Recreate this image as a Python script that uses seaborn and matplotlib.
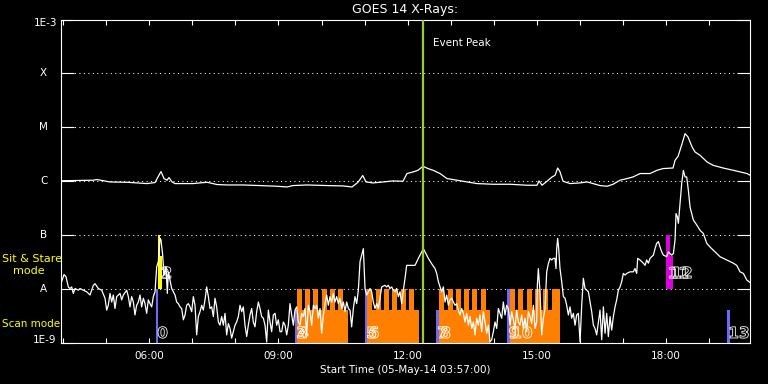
import numpy as np
import pandas as pd
import matplotlib
matplotlib.use("Agg")
import matplotlib.pyplot as plt
import matplotlib.patheffects as pe
from matplotlib.ticker import FixedLocator, NullLocator, FuncFormatter
import seaborn as sns

# ---------------- data (hours UT on 05-May-2014, log10 flux W/m^2) ----------------
x_start, x_end = 3.95, 19.95          # 03:57 .. 19:57
event_peak = 12.364

long_t = [3.950, 4.693, 4.786, 5.088, 5.483, 5.947, 6.133, 6.203, 6.272, 6.342, 6.412, 6.458,
          6.528, 6.598, 7.016, 7.341, 7.410, 7.573, 7.805, 8.177, 8.572, 8.966, 9.199, 9.338,
          9.663, 10.128, 10.499, 10.708, 10.847, 10.957, 11.033, 11.196, 11.428, 11.660, 11.892,
          11.985, 12.125, 12.241, 12.357, 12.473, 12.589, 12.752, 12.914, 13.146, 13.379, 13.611,
          13.983, 14.377, 14.772, 15.004, 15.051, 15.121, 15.236, 15.353, 15.423, 15.485, 15.539,
          15.608, 15.771, 16.003, 16.166, 16.305, 16.468, 16.630, 16.770, 16.932, 17.095, 17.234,
          17.397, 17.629, 17.792, 17.931, 18.163, 18.210, 18.280, 18.373, 18.442, 18.512, 18.605,
          18.674, 18.790, 18.953, 19.092, 19.324, 19.557, 19.882, 19.951]
long_logf = [-5.991, -5.981, -5.969, -6.013, -6.019, -6.043, -6.024, -5.920, -5.820, -5.950, -5.981, -5.931,
             -6.013, -6.043, -6.043, -6.019, -6.031, -6.061, -6.069, -6.069, -6.080, -6.093, -6.106, -6.080,
             -6.069, -6.080, -6.087, -6.106, -6.019, -5.894, -6.013, -6.031, -6.013, -5.994, -6.000,
             -5.857, -5.828, -5.796, -5.722, -5.765, -5.796, -5.857, -5.950, -5.981, -6.013, -6.043,
             -6.056, -6.056, -6.074, -6.074, -5.994, -6.074, -6.000, -5.920, -5.889, -5.754, -5.828,
             -6.000, -6.043, -6.031, -6.013, -6.043, -6.080, -6.093, -6.056, -5.981, -5.950, -5.920,
             -5.857, -5.857, -5.796, -5.765, -5.754, -5.611, -5.537, -5.302, -5.117, -5.180, -5.365,
             -5.457, -5.519, -5.643, -5.704, -5.754, -5.796, -5.857, -5.889]

short_t = [3.927, 3.966, 4.020, 4.066, 4.120, 4.159, 4.198, 4.236, 4.275, 4.353, 4.391, 4.469,
           4.546, 4.624, 4.662, 4.701, 4.740, 4.817, 4.895, 4.972, 5.011, 5.049, 5.088, 5.127,
           5.165, 5.204, 5.243, 5.320, 5.359, 5.398, 5.475, 5.514, 5.552, 5.591, 5.630, 5.668,
           5.707, 5.746, 5.785, 5.823, 5.862, 5.901, 5.939, 5.978, 6.017, 6.056, 6.094, 6.133,
           6.172, 6.211, 6.249, 6.272, 6.311, 6.342, 6.388, 6.419, 6.443, 6.481, 6.520, 6.559,
           6.598, 6.636, 6.675, 6.714, 6.752, 6.791, 6.830, 6.868, 6.907, 6.946, 6.985, 7.023,
           7.062, 7.101, 7.139, 7.178, 7.217, 7.255, 7.294, 7.333, 7.372, 7.410, 7.449, 7.488,
           7.526, 7.565, 7.604, 7.642, 7.681, 7.720, 7.759, 7.797, 7.836, 7.875, 7.913, 7.952,
           7.991, 8.029, 8.068, 8.107, 8.146, 8.184, 8.223, 8.262, 8.300, 8.339, 8.378, 8.416,
           8.455, 8.494, 8.533, 8.571,
           8.610, 8.649, 8.688, 8.726, 8.765, 8.804, 8.842, 8.881, 8.920, 8.958, 8.997, 9.036,
           9.075, 9.113, 9.152, 9.191, 9.229, 9.268, 9.307, 9.346, 9.384, 9.423, 9.462, 9.500,
           9.539, 9.578, 9.616, 9.655, 9.694, 9.733, 9.771, 9.810, 9.849, 9.887, 9.926, 9.965,
           10.003, 10.042, 10.081, 10.120, 10.158, 10.197, 10.236, 10.274, 10.313, 10.352, 10.390,
           10.429, 10.468, 10.507, 10.545, 10.584, 10.623, 10.661, 10.700, 10.739, 10.777, 10.816,
           10.855, 10.894, 10.932, 10.971, 11.010, 11.048, 11.087, 11.126, 11.164, 11.203, 11.242,
           11.281, 11.319, 11.358, 11.397, 11.474, 11.513, 11.552, 11.590, 11.629, 11.668, 11.706,
           11.745, 11.784, 11.823, 11.861, 11.900, 11.939, 11.977, 12.094, 12.171, 12.249, 12.326,
           12.365, 12.403, 12.481, 12.558, 12.636, 12.674, 12.713, 12.752, 12.790, 12.829, 12.868,
           12.907, 12.945, 12.984, 13.023, 13.061,
           13.100, 13.139, 13.177, 13.216, 13.255, 13.293, 13.332, 13.371, 13.410, 13.448, 13.487,
           13.526, 13.564, 13.603, 13.642, 13.680, 13.719, 13.758, 13.797, 13.835, 13.874, 13.913,
           13.951, 13.990, 14.029, 14.068, 14.106, 14.145, 14.184, 14.222, 14.261, 14.300, 14.338,
           14.377, 14.416, 14.455, 14.493, 14.532, 14.571, 14.609, 14.648, 14.687, 14.725, 14.764,
           14.803, 14.842, 14.880, 14.919, 14.958, 14.996, 15.012, 15.035, 15.074, 15.113, 15.151,
           15.190, 15.229, 15.267, 15.306, 15.345, 15.384, 15.422, 15.445, 15.461, 15.484, 15.507,
           15.538, 15.577, 15.616, 15.655, 15.693, 15.732, 15.771, 15.809, 15.848, 15.887, 15.925,
           15.964, 16.003, 16.042, 16.080, 16.119, 16.158, 16.196, 16.235, 16.274, 16.313, 16.351,
           16.390,
           16.467, 16.506, 16.545, 16.584, 16.622, 16.661, 16.700, 16.738, 16.777, 16.816, 16.854,
           16.893, 16.932, 16.971, 17.009, 17.048, 17.087, 17.164, 17.241, 17.280, 17.319, 17.342,
           17.396, 17.435, 17.474, 17.513, 17.551, 17.590, 17.629, 17.667, 17.706, 17.745, 17.783,
           17.822, 17.861, 17.900, 17.938, 18.016, 18.054, 18.093, 18.132, 18.171, 18.209, 18.232,
           18.263, 18.287, 18.325, 18.364, 18.403, 18.442, 18.480, 18.519, 18.558, 18.635, 18.713,
           18.790, 18.867, 18.945, 19.022, 19.100, 19.177, 19.255, 19.332, 19.410, 19.487, 19.564,
           19.642, 19.719, 19.797, 19.874, 19.952]
short_logf = [-7.99, -7.86, -7.73, -7.77, -7.96, -7.99, -7.96, -8.08, -7.99, -8.02, -7.99, -8.02,
              -8.05, -8.11, -8.02, -7.93, -7.90, -7.99, -8.02, -8.17, -8.39, -8.30, -8.08, -8.24,
              -8.11, -8.36, -8.14, -8.08, -8.20, -8.11, -8.02, -8.14, -8.33, -8.14, -8.24, -8.48,
              -8.30, -8.24, -8.11, -8.33, -8.17, -8.27, -8.45, -8.20, -8.27, -8.33, -8.14, -8.05,
              -7.59, -7.49, -7.06, -7.09, -7.37, -7.74, -7.59, -8.08, -7.68, -7.83, -7.99, -8.05,
              -8.11, -8.24, -8.27, -8.33, -8.36, -8.57, -8.48, -8.30, -8.27, -8.33, -8.42, -8.14,
              -8.30, -8.85, -8.51, -8.42, -8.30, -8.39, -8.20, -7.96, -8.14, -8.36, -8.33, -8.51,
              -8.17, -8.33, -8.61, -8.67, -8.51, -8.67, -8.45, -8.85, -8.64, -8.73, -8.91, -8.79,
              -8.67, -8.61, -8.51, -8.30, -8.42, -8.33, -8.67, -8.88, -8.67, -8.48, -8.36, -8.61,
              -8.70, -8.42, -8.24, -8.36,
              -8.51, -8.54, -8.67, -8.98, -8.39, -8.61, -8.79, -8.48, -8.45, -8.67, -8.57, -8.79,
              -8.79, -8.61, -8.67, -8.85, -8.67, -8.27, -8.48, -8.67, -8.39, -8.33, -8.61, -8.67,
              -8.45, -8.51, -8.36, -8.85, -8.30, -8.42, -8.67, -8.30, -8.36, -8.30, -8.54, -8.36,
              -8.82, -8.48, -8.27, -8.11, -8.30, -8.14, -8.24, -8.08, -8.24, -8.14, -8.27,
              -8.17, -8.36, -8.24, -8.42, -8.24, -8.36, -8.39, -8.70, -8.36, -8.14, -8.27,
              -8.02, -7.49, -7.37, -7.25, -7.99, -8.11, -8.05, -7.99, -8.05, -8.24, -8.36,
              -8.27, -8.36, -8.17, -7.96, -7.93, -7.96, -7.93, -7.99, -7.96, -8.02, -8.05,
              -7.99, -8.14, -8.05, -8.27, -8.02, -7.80, -7.56, -7.56, -7.56, -7.43, -7.31,
              -7.25, -7.31, -7.43, -7.53, -7.62, -7.71, -7.86, -7.96, -8.05, -7.96, -8.24,
              -8.11, -8.30, -8.20, -8.17, -8.24,
              -8.30, -8.27, -8.39, -8.48, -8.36, -8.45, -8.61, -8.45, -8.67, -8.51, -8.73,
              -8.61, -8.85, -8.54, -8.67, -8.48, -8.79, -8.42, -8.61, -8.82, -8.67, -8.98,
              -8.94, -8.79, -8.61, -8.73, -8.36, -8.45, -8.54, -8.24, -8.48, -8.30, -8.36,
              -8.67, -8.42, -8.57, -8.73, -8.39, -8.61, -8.67, -8.48, -8.73, -8.54, -8.79,
              -8.42, -8.51, -8.64, -8.30, -8.73, -8.61, -7.93, -7.62, -8.05, -8.85, -8.54,
              -8.36, -7.68, -7.53, -7.43, -7.46, -7.43, -7.43, -7.62, -7.25, -7.06, -7.25,
              -7.62, -7.86, -8.14, -8.17, -8.30, -8.48, -8.33, -8.54, -8.45, -8.67, -8.48,
              -8.45, -8.98, -8.30, -7.80, -7.99, -8.02, -8.05, -8.24, -8.42, -8.67, -8.73,
              -8.85,
              -8.39, -8.94, -8.33, -8.82, -8.45, -8.88, -8.51, -8.76, -8.51, -8.33, -8.20,
              -8.02, -7.96, -7.86, -7.71, -7.74, -7.71, -7.68, -7.68, -7.62, -7.71, -7.43,
              -7.46, -7.49, -7.52, -7.56, -7.46, -7.52, -7.43, -7.40, -7.37, -7.25, -7.15,
              -7.12, -7.22, -7.31, -7.37, -7.40, -7.31, -7.34, -7.37, -7.34, -7.09, -6.60,
              -6.66, -6.78, -6.41, -6.04, -5.80, -5.92, -5.92, -6.17, -6.48, -6.72, -6.81,
              -6.91, -6.97, -7.15, -7.22, -7.28, -7.34, -7.40, -7.43, -7.46, -7.49, -7.52,
              -7.56, -7.68, -7.71, -7.83, -7.88]

# IRIS observations
obs_id    = ["0", "1", "2", "3", "4", "5", "6", "7", "8", "9", "10", "11", "12", "13"]
obs_start = [6.156, 6.196, 6.256, 9.384, 9.424, 11.010, 11.063, 12.659, 12.728, 14.315, 14.377, 18.007, 18.093, 19.417]
obs_end   = [6.210, 6.256, 6.284, 9.424, 10.615, 11.063, 12.264, 12.728, 13.913, 14.377, 15.539, 18.093, 18.156, 19.480]
obs_mode  = ["scan", "sit", "sit", "scan", "scan", "scan", "scan", "scan", "scan", "scan", "scan", "sit", "sit", "scan"]
obs_kind  = ["blue", "yellow", "yellow", "blue", "orange", "blue", "orange", "blue", "orange", "blue", "orange",
             "magenta", "magenta", "blue"]
obs_full  = [True, True, False, False, False, True, False, False, False, True, False, True, False, False]

# individual raster repeats inside the long scan observations
raster_start = [9.424, 9.617, 9.809, 10.004, 10.197, 10.390,
                11.063, 11.258, 11.451, 11.643, 11.839, 12.032,
                12.728, 12.930, 13.123, 13.316, 13.502, 13.697,
                14.377, 14.570, 14.765, 14.958, 15.150, 15.346]
raster_end   = [9.540, 9.733, 9.925, 10.120, 10.313, 10.506,
                11.179, 11.374, 11.567, 11.759, 11.955, 12.148,
                12.844, 13.046, 13.239, 13.432, 13.618, 13.813,
                14.493, 14.686, 14.881, 15.074, 15.266, 15.539]

y_levels = [1e-9, 1e-8, 1e-7, 1e-6, 1e-5, 1e-4, 1e-3]
y_names  = ["1E-9", "A", "B", "C", "M", "X", "1E-3"]
x_major  = [6, 9, 12, 15, 18]
x_minor  = [4, 5, 7, 8, 10, 11, 13, 14, 16, 17, 19]

# ---------------- style ----------------
sns.set_theme(style="dark", rc={"axes.facecolor": "black", "figure.facecolor": "black",
                                "axes.edgecolor": "white", "axes.grid": False})
plt.rcParams["font.family"] = ["DejaVu Sans"]

colors = {"blue": "#6a6aff", "yellow": "#ffff00", "orange": "#ff8000", "magenta": "#dc00dc"}

W, H = 768, 384
fig = plt.figure(figsize=(W / 100, H / 100), dpi=100, facecolor="black")
ax_l, ax_r, ax_t, ax_b = 61, 750, 19.5, 343
ax = fig.add_axes([ax_l / W, 1 - ax_b / H, (ax_r - ax_l) / W, (ax_b - ax_t) / H])
ax.set_facecolor("black")
ax.set_yscale("log")
ax.set_ylim(1e-9, 1e-3)
ax.set_xlim(x_start, x_end)

# dotted decade lines
ax.hlines(y_levels[1:-1], x_start, x_end, colors="white", linestyles=(0, (1, 3.3)), lw=0.75, zorder=1)

# observation bars
row_bottom = {"scan": 1e-9, "sit": 1e-8}
for s, e, m, k, f in zip(obs_start, obs_end, obs_mode, obs_kind, obs_full):
    b = row_bottom[m]
    top = b * 10 if f else b * 10 ** 0.62
    ax.bar(s, top - b, width=e - s, bottom=b, align="edge", color=colors[k], lw=0, zorder=2)
rs = np.array(raster_start)
re_ = np.array(raster_end)
ax.bar(rs, 1e-8 - 1e-9, width=re_ - rs, bottom=1e-9, align="edge", color=colors["orange"], lw=0, zorder=2)

# GOES curves
sns.lineplot(x=long_t, y=10 ** np.array(long_logf), ax=ax, color="white", lw=0.9,
             estimator=None, sort=False, zorder=3)
sns.lineplot(x=short_t, y=10 ** np.array(short_logf), ax=ax, color="white", lw=0.9,
             estimator=None, sort=False, zorder=3)

# event peak
ax.axvline(event_peak, color="#9acd32", lw=1.6, zorder=4)
ax.text(event_peak + 10 / 43.06, (ax_b - 43) / (ax_b - ax_t), "Event Peak", transform=ax.get_xaxis_transform(),
        color="white", fontsize=7.5, ha="left", va="center", zorder=5)

# observation numbers (hollow outlined glyphs, overlapping like the original)
label_base = {"scan": 10 ** -8.907, "sit": 10 ** -7.796}
for s, m, lab in zip(obs_start, obs_mode, obs_id):
    ax.text(s + 0.03, label_base[m], lab, color="none", fontsize=11, fontweight="bold",
            ha="left", va="baseline", zorder=6,
            path_effects=[pe.Stroke(linewidth=0.6, foreground="white")])

# axes, ticks
for sp in ax.spines.values():
    sp.set_color("white")
    sp.set_linewidth(0.8)
ax.yaxis.set_major_locator(FixedLocator(y_levels))
ax.yaxis.set_minor_locator(NullLocator())
ax.tick_params(axis="y", which="major", direction="in", length=9.4, width=0.8, color="white",
               left=True, right=True, labelleft=False, labelright=False)
ax.xaxis.set_major_locator(FixedLocator(x_major))
ax.xaxis.set_minor_locator(FixedLocator(x_minor))
ax.xaxis.set_major_formatter(FuncFormatter(lambda v, p: "%02d:00" % int(round(v))))
ax.tick_params(axis="x", which="both", direction="in", length=3.6, width=0.8, color="white",
               bottom=True, top=True, labelcolor="white", labelsize=7.5, pad=6)
ax.set_xlabel("")
ax.set_ylabel("")

# y labels (GOES classes)
ytr = ax.get_yaxis_transform()
for lvl, nm in zip(y_levels[1:-1], y_names[1:-1]):
    ax.text((43.7 - ax_l) / (ax_r - ax_l), lvl, nm, transform=ytr, color="white", fontsize=7.5,
            ha="center", va="center")
ax.text((57 - ax_l) / (ax_r - ax_l), (ax_b - 23.5) / (ax_b - ax_t), y_names[-1], transform=ax.transAxes,
        color="white", fontsize=7.5, ha="right", va="center")
ax.text((56 - ax_l) / (ax_r - ax_l), (ax_b - 340) / (ax_b - ax_t), y_names[0], transform=ax.transAxes,
        color="white", fontsize=7.5, ha="right", va="center")

# titles and mode labels
fig.text(405 / W, 1 - 9 / H, "GOES 14 X-Rays:", color="white", fontsize=9, ha="center", va="center")
fig.text(405 / W, 1 - 370 / H, "Start Time (05-May-14 03:57:00)", color="white", fontsize=7.5,
         ha="center", va="center")
fig.text(2 / W, 1 - 259 / H, "Sit & Stare", color="#ffff00", fontsize=8, ha="left", va="center")
fig.text(13 / W, 1 - 271 / H, "mode", color="#ffff00", fontsize=8, ha="left", va="center")
fig.text(2 / W, 1 - 324 / H, "Scan mode", color="#ffff00", fontsize=7.5, ha="left", va="center")

fig.savefig("out.png", dpi=100, facecolor="black")
